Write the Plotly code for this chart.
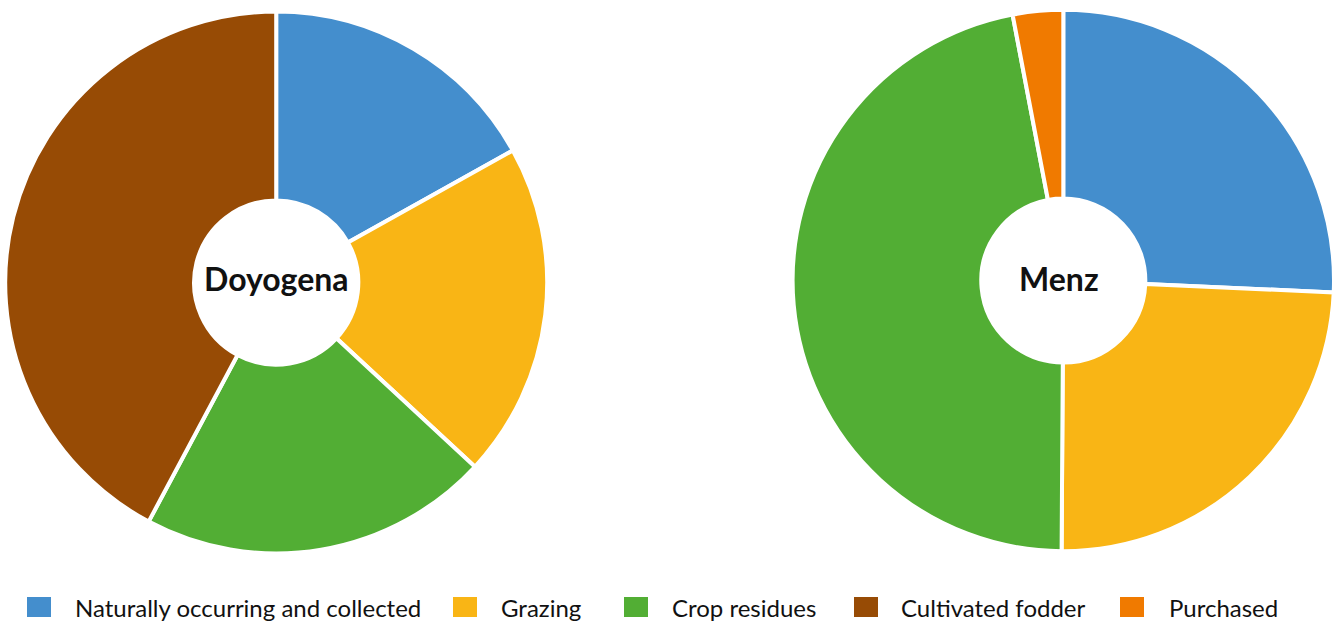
import plotly.graph_objects as go

categories = ["Naturally occurring and collected", "Grazing", "Crop residues",
              "Cultivated fodder", "Purchased"]
colors = ["#448ECD", "#F9B515", "#52AE34", "#974B05", "#F07A00"]

doyogena_labels = ["Naturally occurring and collected", "Grazing", "Crop residues", "Cultivated fodder"]
doyogena_values = [16.9, 20.0, 20.9, 42.2]

menz_labels = ["Naturally occurring and collected", "Grazing", "Crop residues", "Purchased"]
menz_values = [25.7, 24.4, 46.9, 3.0]

W, H = 1338, 624
color_map = dict(zip(categories, colors))

def px_dom(x0, x1, y0, y1):
    return dict(x=[x0 / W, x1 / W], y=[1 - y1 / H, 1 - y0 / H])

fig = go.Figure()
fig.add_trace(go.Pie(
    labels=doyogena_labels, values=doyogena_values,
    marker=dict(colors=[color_map[l] for l in doyogena_labels], line=dict(color="white", width=4)),
    hole=0.303, sort=False, direction="clockwise", rotation=0,
    textinfo="none", hoverinfo="label+percent", showlegend=False,
    domain=px_dom(5.2, 547.2, 11.5, 553.5),
))
fig.add_trace(go.Pie(
    labels=menz_labels, values=menz_values,
    marker=dict(colors=[color_map[l] for l in menz_labels], line=dict(color="white", width=4)),
    hole=0.303, sort=False, direction="clockwise", rotation=0,
    textinfo="none", hoverinfo="label+percent", showlegend=False,
    domain=px_dom(792.6, 1334.0, 9.8, 551.2),
))

annotations = [
    dict(text="<b>Doyogena</b>", x=276 / W, y=1 - 278 / H, xref="paper", yref="paper",
         showarrow=False, font=dict(family="Lato", size=32, color="#111111"),
         xanchor="center", yanchor="middle"),
    dict(text="<b>Menz</b>", x=1058.5 / W, y=1 - 278 / H, xref="paper", yref="paper",
         showarrow=False, font=dict(family="Lato", size=32, color="#111111"),
         xanchor="center", yanchor="middle"),
]

# custom legend
swatch_x = [27, 453, 624, 854, 1120]
text_x = [73, 499, 670, 899, 1167]
shapes = []
for cat, col, sx, tx in zip(categories, colors, swatch_x, text_x):
    shapes.append(dict(type="rect", xref="paper", yref="paper",
                       x0=sx / W, x1=(sx + 24) / W, y0=1 - 617 / H, y1=1 - 597 / H,
                       fillcolor=col, line=dict(width=0)))
    annotations.append(dict(text=cat, x=tx / W, y=1 - 607 / H, xref="paper", yref="paper",
                            showarrow=False, xanchor="left", yanchor="middle",
                            font=dict(family="Lato", size=24, color="#111111")))

fig.update_layout(
    width=W, height=H, margin=dict(l=0, r=0, t=0, b=0),
    paper_bgcolor="white", plot_bgcolor="white",
    annotations=annotations, shapes=shapes, showlegend=False,
)
fig.write_html("out.html")
